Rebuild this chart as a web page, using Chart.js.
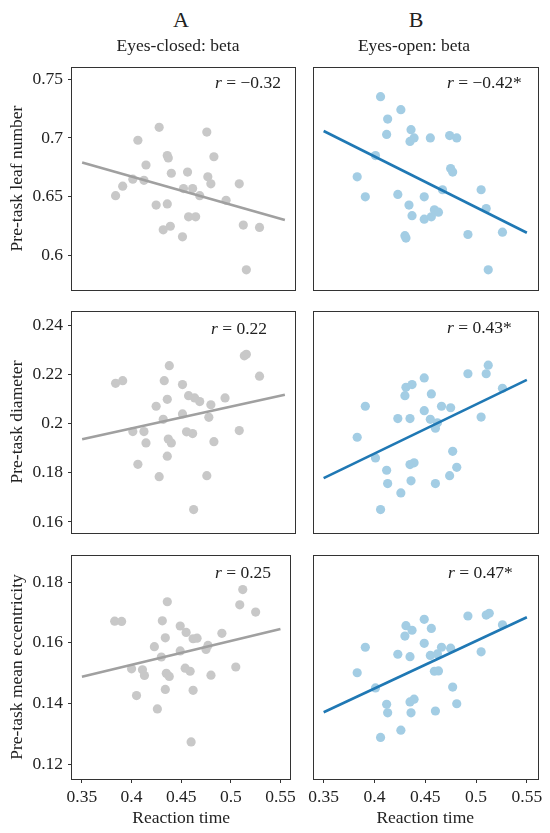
<!DOCTYPE html>
<html>
<head>
<meta charset="utf-8">
<script src="https://cdn.jsdelivr.net/npm/chart.js@4.4.0/dist/chart.umd.min.js"></script>
<style>
  body { margin: 0; width: 550px; height: 833px; position: relative; background: #fff; overflow: hidden;
         font-family: "Liberation Serif", "Times New Roman", serif; color: #222; }
  canvas { position: absolute; }
  .txt { position: absolute; white-space: nowrap; font-size: 17.5px; line-height: 1; z-index: 2; }
  .mid { transform: translate(-50%, -50%); }
  .vmid { transform: translateY(-50%); }
</style>
</head>
<body>
<div class="txt mid" style="left:181px;top:20px;font-size:22px">A</div>
<div class="txt mid" style="left:178px;top:46px">Eyes-closed: beta</div>
<div class="txt mid" style="left:416px;top:20px;font-size:22px">B</div>
<div class="txt mid" style="left:414px;top:46px">Eyes-open: beta</div>

<div class="txt vmid" style="left:215px;top:83px"><i>r</i> = −0.32</div>
<div class="txt vmid" style="left:447px;top:83px"><i>r</i> = −0.42*</div>
<div class="txt vmid" style="left:211px;top:329px"><i>r</i> = 0.22</div>
<div class="txt vmid" style="left:447px;top:328px"><i>r</i> = 0.43*</div>
<div class="txt vmid" style="left:215px;top:573px"><i>r</i> = 0.25</div>
<div class="txt vmid" style="left:448px;top:573px"><i>r</i> = 0.47*</div>

<canvas id="a1" width="300" height="263" style="left:0;top:47px"></canvas>
<canvas id="b1" width="250" height="263" style="left:300px;top:47px"></canvas>
<canvas id="a2" width="300" height="262" style="left:0;top:291px"></canvas>
<canvas id="b2" width="250" height="262" style="left:300px;top:291px"></canvas>
<canvas id="a3" width="300" height="298" style="left:0;top:535px"></canvas>
<canvas id="b3" width="250" height="298" style="left:300px;top:535px"></canvas>

<script>
// shared x axis
var xTicks = [0.35, 0.4, 0.45, 0.5, 0.55];
var fitX = [0.35, 0.55];

// pre-task leaf number
var leafTicks = [0.6, 0.65, 0.7, 0.75];
var closedLeafX = [0.426, 0.473, 0.405, 0.434, 0.435, 0.480, 0.413, 0.438, 0.454, 0.400, 0.411, 0.474, 0.477, 0.390, 0.383,
                   0.450, 0.459, 0.466, 0.505, 0.492, 0.423, 0.434, 0.455, 0.462, 0.437, 0.430, 0.449, 0.509, 0.525, 0.512];
var closedLeafY = [0.709, 0.705, 0.698, 0.685, 0.683, 0.684, 0.677, 0.670, 0.671, 0.665, 0.664, 0.667, 0.661, 0.659, 0.651,
                   0.657, 0.657, 0.651, 0.661, 0.647, 0.643, 0.644, 0.633, 0.633, 0.625, 0.622, 0.616, 0.626, 0.624, 0.588];
var closedLeafFit = [0.6792, 0.6303];
var openLeafX = [0.406, 0.426, 0.413, 0.436, 0.412, 0.439, 0.435, 0.455, 0.474, 0.481, 0.401, 0.475, 0.477, 0.383, 0.467, 0.505,
                 0.391, 0.423, 0.449, 0.434, 0.510, 0.459, 0.463, 0.437, 0.449, 0.456, 0.492, 0.526, 0.430, 0.431, 0.512];
var openLeafY = [0.735, 0.724, 0.716, 0.707, 0.703, 0.700, 0.697, 0.700, 0.702, 0.700, 0.685, 0.674, 0.671, 0.667, 0.656, 0.656,
                 0.650, 0.652, 0.650, 0.643, 0.640, 0.639, 0.637, 0.634, 0.631, 0.633, 0.618, 0.620, 0.617, 0.615, 0.588];
var openLeafFit = [0.7059, 0.6195];

// pre-task diameter
var diamTicks = [0.16, 0.18, 0.2, 0.22, 0.24];
var closedDiamX = [0.436, 0.383, 0.390, 0.431, 0.449, 0.510, 0.512, 0.525, 0.455, 0.461, 0.466, 0.434, 0.491, 0.423, 0.477, 0.449,
                   0.430, 0.475, 0.400, 0.411, 0.453, 0.459, 0.505, 0.413, 0.435, 0.438, 0.480, 0.434, 0.405, 0.426, 0.473, 0.460];
var closedDiamY = [0.2235, 0.2163, 0.2174, 0.2174, 0.2158, 0.2275, 0.2281, 0.2192, 0.2113, 0.2104, 0.2089, 0.2098, 0.2104, 0.2070, 0.2076, 0.2039,
                   0.2017, 0.2025, 0.1967, 0.1967, 0.1966, 0.1959, 0.1971, 0.1921, 0.1937, 0.1921, 0.1926, 0.1867, 0.1834, 0.1784, 0.1788, 0.1650];
var closedDiamFit = [0.1936, 0.2117];
var openDiamX = [0.512, 0.492, 0.510, 0.449, 0.431, 0.437, 0.430, 0.456, 0.526, 0.391, 0.466, 0.475, 0.449, 0.423, 0.435, 0.455,
                 0.462, 0.460, 0.505, 0.383, 0.477, 0.401, 0.435, 0.439, 0.481, 0.412, 0.474, 0.413, 0.436, 0.460, 0.426, 0.406];
var openDiamY = [0.2237, 0.2202, 0.2202, 0.2185, 0.2147, 0.2158, 0.2113, 0.2120, 0.2143, 0.2070, 0.2070, 0.2064, 0.2052, 0.2020, 0.2020, 0.2017,
                 0.2003, 0.1981, 0.2026, 0.1944, 0.1887, 0.1860, 0.1833, 0.1840, 0.1822, 0.1810, 0.1788, 0.1756, 0.1767, 0.1756, 0.1718, 0.1650];
var openDiamFit = [0.1778, 0.2177];

// pre-task mean eccentricity
var eccTicks = [0.12, 0.14, 0.16, 0.18];
var closedEccX = [0.512, 0.509, 0.525, 0.436, 0.383, 0.390, 0.431, 0.449, 0.455, 0.462, 0.466, 0.434, 0.491, 0.423, 0.477, 0.475,
                  0.449, 0.430, 0.400, 0.411, 0.413, 0.454, 0.459, 0.435, 0.438, 0.505, 0.480, 0.434, 0.462, 0.405, 0.426, 0.460];
var closedEccY = [0.1775, 0.1725, 0.1701, 0.1735, 0.1671, 0.1670, 0.1672, 0.1655, 0.1634, 0.1613, 0.1615, 0.1616, 0.1631, 0.1587, 0.1591, 0.1578,
                  0.1573, 0.1553, 0.1514, 0.1511, 0.1492, 0.1516, 0.1506, 0.1499, 0.1489, 0.1520, 0.1493, 0.1446, 0.1443, 0.1426, 0.1382, 0.1273];
var closedEccFit = [0.1488, 0.1645];
var openEccX = [0.492, 0.510, 0.513, 0.449, 0.526, 0.431, 0.437, 0.456, 0.430, 0.449, 0.391, 0.466, 0.475, 0.423, 0.435, 0.455,
                0.462, 0.505, 0.383, 0.459, 0.463, 0.401, 0.477, 0.435, 0.439, 0.481, 0.412, 0.413, 0.436, 0.460, 0.426, 0.406];
var openEccY = [0.1688, 0.1691, 0.1697, 0.1677, 0.1659, 0.1656, 0.1641, 0.1647, 0.1622, 0.1598, 0.1585, 0.1585, 0.1582, 0.1562, 0.1554, 0.1558,
                0.1563, 0.1570, 0.1501, 0.1506, 0.1507, 0.1451, 0.1454, 0.1405, 0.1414, 0.1399, 0.1397, 0.1369, 0.1369, 0.1375, 0.1312, 0.1288];
var openEccFit = [0.1371, 0.1684];

var FONT = '"Liberation Serif", "Times New Roman", serif';
var INK = '#222';

// box around each plot area
var framePlugin = {
  id: 'frame',
  afterDraw: function(chart) {
    var a = chart.chartArea, c = chart.ctx;
    c.save();
    c.strokeStyle = '#333';
    c.lineWidth = 1;
    c.strokeRect(Math.round(a.left) - 0.5, Math.round(a.top) + 0.5,
                 Math.round(a.right - a.left) + 1, Math.round(a.bottom - a.top));
    c.restore();
  }
};

function pairs(xs, ys) {
  var out = [];
  for (var i in xs) out.push({x: xs[i], y: ys[i]});
  return out;
}

function panel(id, xs, ys, fit, o) {
  var closed = o.col === 'A';
  var chartdata = {
    datasets: [
      {
        type: 'line',
        data: pairs(fitX, fit),
        borderColor: closed ? '#a0a0a0' : '#1f78b4',
        borderWidth: 2.6,
        pointRadius: 0,
        fill: false,
        order: 0
      },
      {
        data: pairs(xs, ys),
        backgroundColor: closed ? '#c8c8c8' : '#a3cde4',
        borderWidth: 0,
        pointRadius: 4.6,
        order: 1
      }
    ]
  };

  new Chart(document.getElementById(id), {
    type: 'scatter',
    data: chartdata,
    plugins: [framePlugin],
    options: {
      responsive: false,
      animation: false,
      events: [],
      layout: { padding: closed ? {left: 0, right: 5, top: 20, bottom: o.bottom ? 0 : 20}
                                : {left: 13.5, right: 13, top: 20, bottom: o.bottom ? 0 : 20} },
      plugins: { legend: { display: false }, tooltip: { enabled: false } },
      scales: {
        x: {
          type: 'linear',
          min: 0.34, max: 0.56,
          display: !!o.bottom,
          afterBuildTicks: function(s) { s.ticks = xTicks.map(function(v) { return {value: v}; }); },
          afterFit: function(s) { if (o.bottom) s.height = 54; },
          grid: { drawOnChartArea: false, drawTicks: true, tickLength: 4, color: '#333' },
          border: { display: false },
          ticks: { color: INK, padding: 4, maxRotation: 0, font: { family: FONT, size: 17.5 },
                   callback: function(v) { return String(v); } },
          title: { display: true, text: 'Reaction time', color: INK, padding: {top: 0, bottom: 4.5},
                   font: { family: FONT, size: 17.5, lineHeight: 1.2 } }
        },
        y: {
          type: 'linear',
          min: o.ymin, max: o.ymax,
          display: closed,
          afterBuildTicks: function(s) { s.ticks = o.ticks.map(function(v) { return {value: v}; }); },
          afterFit: function(s) { if (closed) s.width = 72; },
          grid: { drawOnChartArea: false, drawTicks: true, tickLength: 4, color: '#333' },
          border: { display: false },
          ticks: { color: INK, padding: 5, font: { family: FONT, size: 17.5 },
                   callback: function(v) { return String(v); } },
          title: { display: true, text: o.title || '', color: INK, padding: {top: 6.5, bottom: 0},
                   font: { family: FONT, size: 17.5, lineHeight: 1.2 } }
        }
      }
    }
  });
}

panel('a1', closedLeafX, closedLeafY, closedLeafFit, {col: 'A', ymin: 0.5709, ymax: 0.7602, ticks: leafTicks, title: 'Pre-task leaf number'});
panel('b1', openLeafX, openLeafY, openLeafFit, {col: 'B', ymin: 0.5709, ymax: 0.7602, ticks: leafTicks});
panel('a2', closedDiamX, closedDiamY, closedDiamFit, {col: 'A', ymin: 0.1555, ymax: 0.2457, ticks: diamTicks, title: 'Pre-task diameter'});
panel('b2', openDiamX, openDiamY, openDiamFit, {col: 'B', ymin: 0.1555, ymax: 0.2457, ticks: diamTicks});
panel('a3', closedEccX, closedEccY, closedEccFit, {col: 'A', ymin: 0.1151, ymax: 0.1889, ticks: eccTicks, title: 'Pre-task mean eccentricity', bottom: true});
panel('b3', openEccX, openEccY, openEccFit, {col: 'B', ymin: 0.1151, ymax: 0.1889, ticks: eccTicks, bottom: true});
</script>
</body>
</html>
